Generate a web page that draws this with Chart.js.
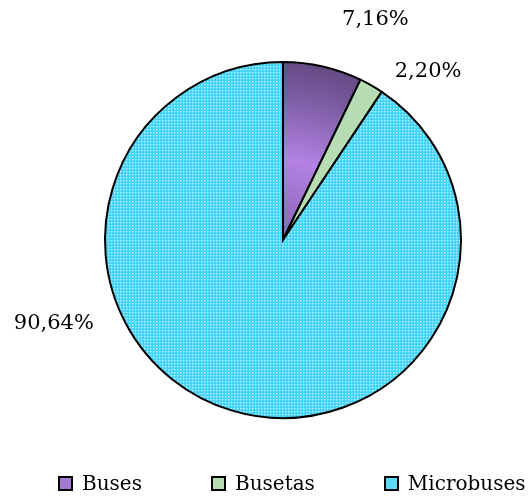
<!DOCTYPE html>
<html>
<head>
<meta charset="utf-8">
<script src="https://cdn.jsdelivr.net/npm/chart.js@4/dist/chart.umd.min.js"></script>
<style>
    body { margin: 0; background: #fff; }
    #wrap { position: relative; width: 531px; height: 499px; }
    #leyenda { position: absolute; left: 58px; top: 471px; display: flex; font-family: "DejaVu Serif", serif; font-size: 20px; line-height: 24px; color: #000; }
    #leyenda .item { display: flex; align-items: center; margin-right: 69px; white-space: nowrap; }
    #leyenda .caja { width: 11px; height: 11px; border: 2px solid #000; margin-right: 9px; }
</style>
</head>
<body>
<div id="wrap">
    <canvas id="chartTipos" width="531" height="499"></canvas>
    <div id="leyenda"></div>
</div>
<script>
const tipos = ["Buses", "Busetas", "Microbuses"];
const porcentajes = [7.16, 2.20, 90.64];

// donde va cada etiqueta: angulo desde arriba (grados) y distancia en radios
const etiquetaAngulo = [22.7, 40.7, 250];
const etiquetaDist = [1.345, 1.25, 1.37];

const coloresLeyenda = ["#a27ad0", "#b8dcb4", "#5cd8f8"];

const d = document;
const ctx = d.getElementById("chartTipos");

// trama punteada del celeste
const trama = d.createElement("canvas");
trama.width = 3; trama.height = 3;
const tctx = trama.getContext("2d");
tctx.fillStyle = "#44d2f6"; tctx.fillRect(0, 0, 3, 3);
tctx.fillStyle = "#b6f2fd"; tctx.fillRect(0, 0, 1, 1);
tctx.fillStyle = "#7fe2fa"; tctx.fillRect(1, 0, 1, 1); tctx.fillRect(0, 1, 1, 1);
const patronCeleste = ctx.getContext("2d").createPattern(trama, "repeat");

const morado = (chart) => {
    const area = chart.chartArea;
    if (!area) return "#9070b8";
    const cx = (area.left + area.right) / 2, cy = (area.top + area.bottom) / 2;
    const r = Math.min(area.right - area.left, area.bottom - area.top) / 2;
    const g = chart.ctx.createRadialGradient(cx, cy, 0, cx, cy, r);
    g.addColorStop(0, "#8a62b2");
    g.addColorStop(0.45, "#b382e4");
    g.addColorStop(0.8, "#7c5ca2");
    g.addColorStop(1, "#644a84");
    return g;
};

const etiquetas = {
    id: "etiquetas",
    afterDatasetsDraw(chart) {
        const arcs = chart.getDatasetMeta(0).data;
        const c = chart.ctx;
        c.save();
        c.font = "21px 'DejaVu Serif', serif";
        c.fillStyle = "#000";
        c.textAlign = "center";
        c.textBaseline = "middle";
        arcs.forEach((arc, i) => {
            const a = etiquetaAngulo[i] * Math.PI / 180;
            const r = arc.outerRadius * etiquetaDist[i];
            const x = arc.x + Math.sin(a) * r, y = arc.y - Math.cos(a) * r;
            c.fillText(porcentajes[i].toFixed(2).replace(".", ",") + "%", x, y);
        });
        c.restore();
    }
};

const chartTipos = new Chart(ctx, {
    type: "pie",
    data: {
        labels: tipos,
        datasets: [
            {
                data: porcentajes,
                backgroundColor: (c) => {
                    if (c.dataIndex === 0) return morado(c.chart);
                    if (c.dataIndex === 1) return "#b8dcb4";
                    return patronCeleste;
                },
                borderColor: "#000",
                borderWidth: 2,
                borderJoinStyle: "miter",
            },
        ],
    },
    options: {
        responsive: false,
        devicePixelRatio: 1,
        animation: false,
        layout: { padding: { top: 61, bottom: 80, left: 35, right: 0 } },
        plugins: {
            legend: { display: false },
            tooltip: { enabled: false },
        },
    },
    plugins: [etiquetas],
});

const leyenda = d.getElementById("leyenda");
tipos.forEach((t, i) => {
    leyenda.innerHTML += `<div class="item"><span class="caja" style="background:${coloresLeyenda[i]}"></span><span>${t}</span></div>`;
});
</script>
</body>
</html>
